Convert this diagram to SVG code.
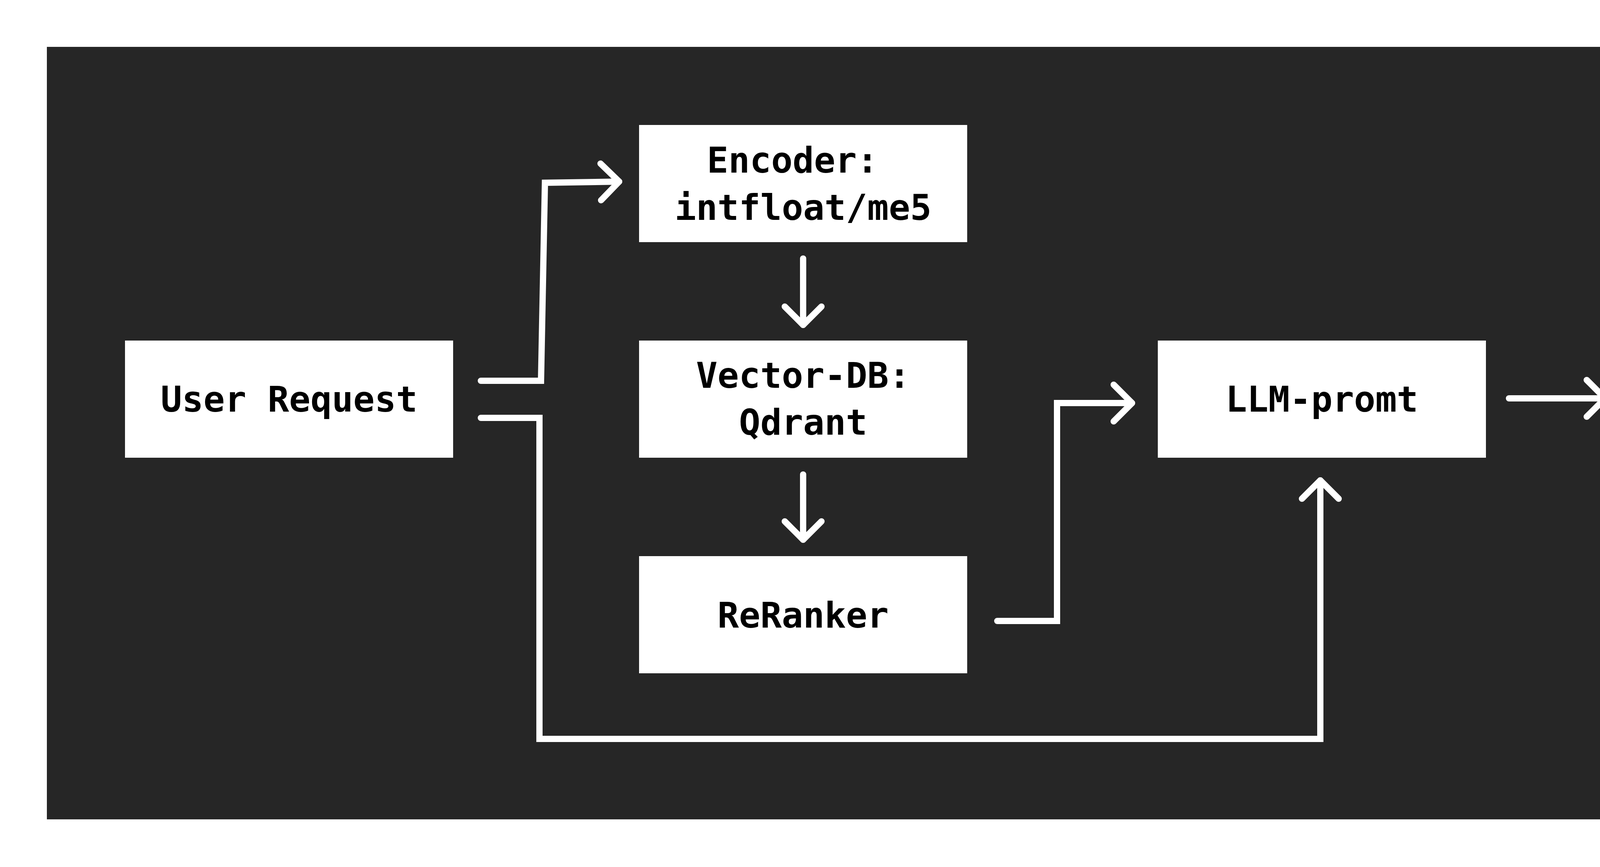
<svg xmlns="http://www.w3.org/2000/svg" width="6516" height="2220" viewBox="0 0 6516 2220">
  <style>
    .box { fill: #ffffff; }
    .lbl { font-family: "DejaVu Sans Mono", "Liberation Mono", monospace; font-weight: bold; font-size: 91px; fill: #000000; text-anchor: middle; }
    .title { font-family: "Liberation Sans", Arial, sans-serif; font-weight: bold; font-size: 277px; fill: #ffffff; }
    .wire { fill: none; stroke: #ffffff; stroke-width: 16; stroke-linecap: round; stroke-linejoin: miter; }
  </style>
  <defs>
    <marker id="arrow" markerUnits="userSpaceOnUse" viewBox="-70 -70 90 140" markerWidth="90" markerHeight="140" refX="0" refY="0" orient="auto" overflow="visible">
      <path d="M -47 -47 L 0 0 L -47 47" fill="none" stroke="#ffffff" stroke-width="16" stroke-linecap="round" stroke-linejoin="round"/>
    </marker>
  </defs>
  <rect x="0" y="0" width="6516" height="2220" fill="#ffffff"/>
  <rect id="panel" x="120" y="120" width="6276" height="1978" fill="#262626"/>
  <text id="title" class="title" x="5556" y="496" textLength="523" lengthAdjust="spacingAndGlyphs">RAG</text>

  <g id="connectors">
    <path class="wire" d="M 1231 975 L 1385 975 L 1395 468 L 1585 465" marker-end="url(#arrow)"/>
    <path class="wire" d="M 1231 1070 L 1381 1070 L 1381 1892 L 3380 1892 L 3380 1230" marker-end="url(#arrow)"/>
    <path class="wire" d="M 2056 662 L 2056 832" marker-end="url(#arrow)"/>
    <path class="wire" d="M 2056 1215 L 2056 1382" marker-end="url(#arrow)"/>
    <path class="wire" d="M 2553 1590 L 2706 1590 L 2706 1032 L 2898 1032" marker-end="url(#arrow)"/>
    <path class="wire" d="M 3863 1020 L 4109 1020" marker-end="url(#arrow)"/>
    <path class="wire" d="M 5063 1035 L 5305 1035" marker-end="url(#arrow)"/>
  </g>

  <g id="user-request">
    <rect class="box" x="320" y="872" width="840" height="300"/>
    <text class="lbl" x="740" y="1054">User Request</text>
  </g>
  <g id="encoder">
    <rect class="box" x="1636" y="320" width="840" height="300"/>
    <text class="lbl" x="2029" y="442">Encoder:</text>
    <text class="lbl" x="2056" y="563">intfloat/me5</text>
  </g>
  <g id="vector-db">
    <rect class="box" x="1636" y="872" width="840" height="300"/>
    <text class="lbl" x="2056" y="993">Vector-DB:</text>
    <text class="lbl" x="2056" y="1113">Qdrant</text>
  </g>
  <g id="reranker">
    <rect class="box" x="1636" y="1424" width="840" height="300"/>
    <text class="lbl" x="2056" y="1607">ReRanker</text>
  </g>
  <g id="llm-promt">
    <rect class="box" x="2964" y="872" width="840" height="300"/>
    <text class="lbl" x="3384" y="1054">LLM-promt</text>
  </g>
  <g id="llm">
    <rect class="box" x="4159" y="872" width="840" height="300"/>
    <text class="lbl" x="4579" y="1053">LLM</text>
  </g>
  <g id="question-answer">
    <rect class="box" x="5355" y="888" width="840" height="300"/>
    <text class="lbl" x="5775" y="1011">Question</text>
    <text class="lbl" x="5775" y="1130">answer</text>
  </g>
</svg>
